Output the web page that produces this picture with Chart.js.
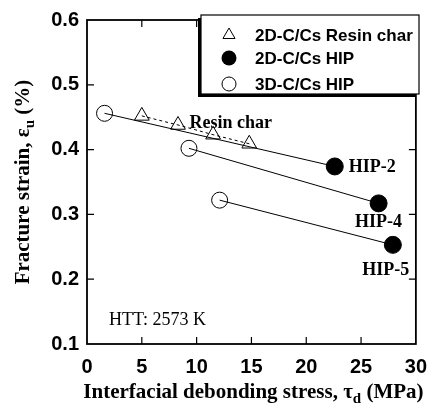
<!DOCTYPE html>
<html>
<head>
<meta charset="utf-8">
<style>
  html, body { margin: 0; padding: 0; background: #fff; }
  #wrap { width: 438px; height: 410px; position: relative; }
</style>
<script src="https://cdn.jsdelivr.net/npm/chart.js@4/dist/chart.umd.min.js"></script>
</head>
<body>
<div id="wrap"><canvas id="chart"></canvas></div>
<script>
// data
const resinX = [5.0, 8.3, 11.5, 14.8];
const resinY = [0.452, 0.438, 0.423, 0.409];
const hip2dX = [22.6, 26.6, 27.9];
const hip2dY = [0.374, 0.317, 0.253];
const hip2dNames = ['HIP-2', 'HIP-4', 'HIP-5'];
const hip3dX = [1.6, 9.3, 12.1];
const hip3dY = [0.456, 0.402, 0.322];
const seriesNames = ['2D-C/Cs Resin char', '2D-C/Cs HIP', '3D-C/Cs HIP'];
const xTickValues = [0, 5, 10, 15, 20, 25, 30];
const yTickValues = [0.1, 0.2, 0.3, 0.4, 0.5, 0.6];

const SANS = '"Liberation Sans", Arial, sans-serif';
const SERIF = '"Liberation Serif", "Times New Roman", serif';

const pts = (xs, ys) => xs.map((x, i) => ({ x, y: ys[i] }));

// text with subscripts, parts = [[text, isSub], ...]
function richWidth(ctx, parts, size) {
  let w = 0;
  parts.forEach(([t, sub]) => {
    ctx.font = `bold ${sub ? Math.round(size * 0.7) : size}px ${SERIF}`;
    w += ctx.measureText(t).width;
  });
  return w;
}
function drawRich(ctx, parts, cx, cy, size) {
  let x = cx - richWidth(ctx, parts, size) / 2;
  ctx.textAlign = 'left';
  ctx.textBaseline = 'middle';
  parts.forEach(([t, sub]) => {
    ctx.font = `bold ${sub ? Math.round(size * 0.7) : size}px ${SERIF}`;
    ctx.fillText(t, x, sub ? cy + size * 0.3 : cy);
    x += ctx.measureText(t).width;
  });
}

const framePlugin = {
  id: 'frame',
  afterDatasetsDraw(chart) {
    const { ctx, chartArea: a, scales: { x, y } } = chart;
    ctx.save();
    ctx.strokeStyle = '#000';
    ctx.lineWidth = 1.8;
    ctx.strokeRect(a.left, a.top, a.right - a.left, a.bottom - a.top);
    ctx.lineWidth = 1.2;
    ctx.beginPath();
    x.ticks.forEach(t => {
      const px = x.getPixelForValue(t.value);
      if (px <= a.left + 1 || px >= a.right - 1) return;
      ctx.moveTo(px, a.bottom); ctx.lineTo(px, a.bottom - 7);
      ctx.moveTo(px, a.top); ctx.lineTo(px, a.top + 7);
    });
    y.ticks.forEach(t => {
      const py = y.getPixelForValue(t.value);
      if (py <= a.top + 1 || py >= a.bottom - 1) return;
      ctx.moveTo(a.left, py); ctx.lineTo(a.left + 7, py);
      ctx.moveTo(a.right, py); ctx.lineTo(a.right - 7, py);
    });
    ctx.stroke();
    ctx.restore();
  }
};

const labelPlugin = {
  id: 'labels',
  afterDraw(chart) {
    const { ctx, chartArea: a, scales: { x, y } } = chart;
    ctx.save();
    ctx.fillStyle = '#000';

    // HIP labels next to the filled points
    const offs = [[14, 1, 'left'], [0, 19, 'center'], [-7, 25, 'center']];
    ctx.font = `bold 18px ${SERIF}`;
    ctx.textBaseline = 'middle';
    hip2dNames.forEach((name, i) => {
      ctx.textAlign = offs[i][2];
      ctx.fillText(name, x.getPixelForValue(hip2dX[i]) + offs[i][0], y.getPixelForValue(hip2dY[i]) + offs[i][1]);
    });

    ctx.textAlign = 'left';
    ctx.textBaseline = 'alphabetic';
    ctx.fillText('Resin char', x.getPixelForValue(9.35), y.getPixelForValue(0.434));

    ctx.font = `18px ${SERIF}`;
    ctx.textBaseline = 'middle';
    ctx.fillText('HTT: 2573 K', a.left + 22, a.bottom - 24);

    // axis titles
    drawRich(ctx, [['Interfacial debonding stress, \u03c4', false], ['d', true], [' (MPa)', false]],
      (a.left + a.right) / 2 + 2, 393, 21);
    ctx.save();
    ctx.translate(24, (a.top + a.bottom) / 2);
    ctx.rotate(-Math.PI / 2);
    drawRich(ctx, [['Fracture strain, \u03b5', false], ['u', true], [' (%)', false]], 0, 0, 21);
    ctx.restore();

    // legend box with shadow
    const bx = 201, by = 15, bw = 218, bh = 79;
    ctx.fillStyle = '#000';
    ctx.fillRect(bx - 3, by + 3, bw, bh);
    ctx.fillStyle = '#fff';
    ctx.fillRect(bx, by, bw, bh);
    ctx.strokeStyle = '#000';
    ctx.lineWidth = 1.2;
    ctx.strokeRect(bx, by, bw, bh);

    const rows = [35, 58, 84];
    const mx = 229;
    ctx.lineWidth = 1;
    // triangle
    ctx.beginPath();
    const r = 7;
    ctx.moveTo(mx, rows[0] - r);
    ctx.lineTo(mx + r * Math.sin(2 * Math.PI / 3), rows[0] - r * Math.cos(2 * Math.PI / 3));
    ctx.lineTo(mx + r * Math.sin(4 * Math.PI / 3), rows[0] - r * Math.cos(4 * Math.PI / 3));
    ctx.closePath();
    ctx.stroke();
    ctx.fillStyle = '#000';
    ctx.beginPath(); ctx.arc(mx, rows[1], 7.5, 0, Math.PI * 2); ctx.fill();
    ctx.beginPath(); ctx.arc(mx, rows[2], 7, 0, Math.PI * 2); ctx.stroke();

    ctx.font = `bold 17px ${SANS}`;
    ctx.textAlign = 'left';
    ctx.textBaseline = 'middle';
    seriesNames.forEach((s, i) => ctx.fillText(s, 255, rows[i] + 1));
    ctx.restore();
  }
};

const markerBase = { showLine: false, borderColor: '#000', borderWidth: 1, pointBorderColor: '#000', pointBorderWidth: 1 };

const datasets = [
  Object.assign({}, markerBase, {
    label: seriesNames[1], data: pts(hip2dX, hip2dY),
    pointStyle: 'circle', pointRadius: 8.5, pointBackgroundColor: '#000'
  }),
  Object.assign({}, markerBase, {
    label: seriesNames[2], data: pts(hip3dX, hip3dY),
    pointStyle: 'circle', pointRadius: 8, pointBackgroundColor: 'rgba(0,0,0,0)'
  }),
  Object.assign({}, markerBase, {
    label: seriesNames[0], data: pts(resinX, resinY),
    pointStyle: 'triangle', pointRadius: 8.5, pointBackgroundColor: 'rgba(0,0,0,0)'
  }),
  {
    label: 'resin trend', data: pts(resinX, resinY), showLine: true,
    borderColor: '#000', borderWidth: 1, borderDash: [3, 3], pointRadius: 0
  }
];
// solid lines from each 3D point to its 2D HIP point
hip3dX.forEach((x0, i) => {
  datasets.push({
    label: 'link ' + i,
    data: [{ x: x0, y: hip3dY[i] }, { x: hip2dX[i], y: hip2dY[i] }],
    showLine: true, borderColor: '#000', borderWidth: 1, pointRadius: 0
  });
});

new Chart(document.getElementById('chart'), {
  type: 'scatter',
  data: { datasets },
  options: {
    responsive: true,
    maintainAspectRatio: false,
    animation: false,
    events: [],
    layout: { padding: { top: 12, right: 17, left: 0, bottom: 0 } },
    plugins: { legend: { display: false }, tooltip: { enabled: false } },
    scales: {
      x: {
        type: 'linear', min: 0, max: 30,
        afterBuildTicks: s => { s.ticks = xTickValues.map(v => ({ value: v })); },
        afterFit: s => { s.height = 66; },
        grid: { display: false, drawTicks: false },
        border: { display: false },
        ticks: { padding: 11, color: '#000', font: { family: SANS, size: 20, weight: 'bold' }, maxRotation: 0 }
      },
      y: {
        type: 'linear', min: 0.1, max: 0.6,
        afterBuildTicks: s => { s.ticks = yTickValues.map(v => ({ value: v })); },
        afterFit: s => { s.width = 87; },
        grid: { display: false, drawTicks: false },
        border: { display: false },
        ticks: { padding: 8, color: '#000', font: { family: SANS, size: 20, weight: 'bold' },
          callback: v => v.toFixed(1) }
      }
    }
  },
  plugins: [framePlugin, labelPlugin]
});
</script>
</body>
</html>
